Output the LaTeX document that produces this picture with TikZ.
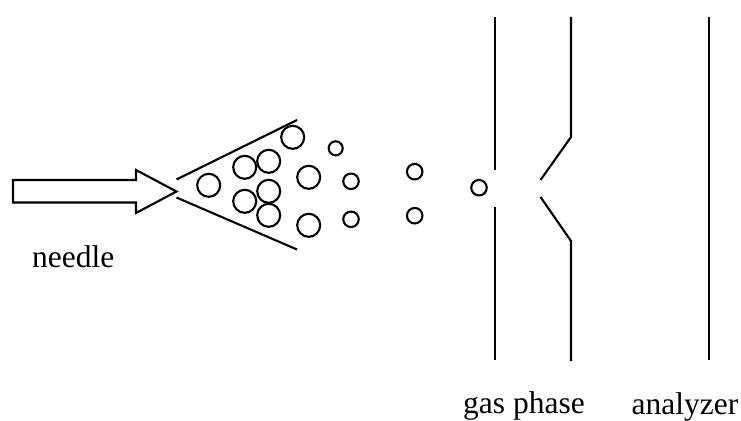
\documentclass[tikz,border=0pt]{standalone}
\usepackage{fontspec}
\setmainfont{Liberation Serif}
\tikzset{
  ink/.style={line width=2.1pt,black,line join=miter},
  drop/.style={ink,circle,draw,inner sep=0pt,minimum size=#1},
  lab/.style={font=\fontsize{31.5}{36}\selectfont,anchor=base,inner sep=0pt}
}
\begin{document}
\begin{tikzpicture}[x=1pt,y=-1pt]
\useasboundingbox (0,0) rectangle (741,420);
% needle
\draw[ink] (13,180) -- (136,180) -- (136,170) -- (176.5,191.5) -- (136,213) -- (136,202.5) -- (13,202.5) -- cycle;
% cone
\draw[ink] (176.5,179.5) -- (297,120);
\draw[ink] (176.5,197.5) -- (297,249.5);
% droplets
\foreach \n/\x/\y/\d in {a/208.7/185.3/23,b/244.7/167.3/23,c/268.7/161.3/23,d/292.7/137.3/23,e/244.7/201.3/23,f/268.7/191.3/23,g/268.7/215.3/23,h/308.7/177.3/23,i/308.7/225.3/23,j/335.7/148.3/14,k/351/181.3/15.5,l/351/219.3/15.5,m/414.7/171.7/15.5,n/414.7/215.7/15.5,o/479/187.7/15.5}
  \node[drop=\d pt] (\n) at (\x,\y) {};
% walls
\draw[ink] (495,17) -- (495,170);
\draw[ink] (495,207) -- (495,360);
\draw[ink] (571,17) -- (571,137) -- (540.5,180);
\draw[ink] (540.5,197) -- (571,241) -- (571,361);
\draw[ink] (709,17) -- (709,360);
% labels
\node[lab] (needle) at (73.3,267) {needle};
\node[lab] (gas) at (524,413) {gas phase};
\node[lab] (an) at (685,414) {analyzer};
\end{tikzpicture}
\end{document}
